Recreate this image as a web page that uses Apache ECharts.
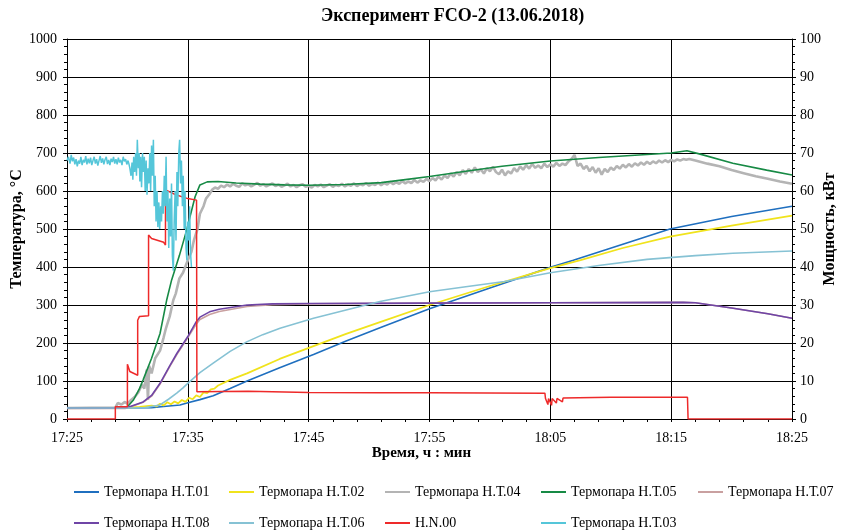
<!DOCTYPE html>
<html>
<head>
<meta charset="utf-8">
<script src="https://cdn.jsdelivr.net/npm/echarts@6/dist/echarts.min.js"></script>
<style>html,body{margin:0;padding:0;background:#fff}#c{width:846px;height:532px}</style>
</head>
<body>
<div id="c"></div>
<script>
// ---- DATA (time in minutes after 17:25) ----
const xTickLabels = ['17:25','17:35','17:45','17:55','18:05','18:15','18:25'];
const names = ['Термопара Н.Т.01','Термопара Н.Т.02','Термопара Н.Т.04','Термопара Н.Т.05','Термопара Н.Т.07','Термопара Н.Т.08','Термопара Н.Т.06','Н.N.00','Термопара Н.Т.03'];

const tT01 = [0, 5, 7, 8, 9.35, 10, 11, 12.1, 13.5, 14.9, 17.6, 20.4, 23.1, 25.9, 30, 35, 40, 41.9, 46, 49.9, 55, 60];
const vT01 = [29, 29, 30, 33, 37, 43, 51, 61, 80, 100, 135, 170, 205, 240, 290, 345, 399, 418, 460, 500, 533, 560];

const tT02 = [0, 4.5, 5.0, 6.0, 7.0, 7.4, 7.7, 8.0, 8.3, 8.6, 8.9, 9.2, 9.5, 9.8, 10.1, 10.4, 10.7, 11.0, 11.3, 11.6, 11.9, 12.2, 12.5, 13.5, 14.9, 17.6, 20.4, 23.1, 25.9, 30, 35, 40, 42.5, 46, 49.9, 55, 60];
const vT02 = [29, 29, 30, 32, 35, 33, 40, 36, 44, 39, 46, 41, 50, 45, 56, 52, 62, 58, 70, 68, 78, 80, 88, 103, 120, 158, 192, 224, 255, 300, 350, 397, 418, 450, 480, 509, 535];

// H.T.04: start/rise, noisy plateau, decline
const tT04rise = [0, 4.0, 4.2, 4.5, 4.8, 5.0, 5.3, 5.6, 5.9, 6.2, 6.4, 6.6, 6.7, 6.8, 7.0, 7.3, 7.7, 8.0, 8.2, 8.5, 8.8, 9.0, 9.3, 9.6, 10.0, 10.3, 10.5, 10.8, 11.0, 11.3, 11.5, 11.8];
const vT04rise = [29, 30, 42, 38, 45, 40, 50, 58, 70, 90, 80, 130, 50, 140, 120, 160, 180, 215, 240, 270, 313, 330, 370, 385, 418, 440, 470, 500, 540, 560, 580, 592];
const pT04mid = [[12,603],[12.25,609],[12.5,606],[12.75,614],[13,610],[13.25,617],[13.5,612],[13.75,619],[14,614],[14.25,611],[14.5,620],[14.75,615],
  [15,618],[15.25,612],[15.5,617],[15.75,621],[16,614],[16.25,618],[16.5,612],[16.75,616],[17,620],[17.25,613],[17.5,617],[17.75,611],
  [18,615],[18.25,619],[18.5,612],[18.75,616],[19,610],[19.25,615],[19.5,618],[19.75,611],[20,614],[20.25,609],[20.5,616],[20.75,612],
  [21,617],[21.25,610],[21.5,614],[21.75,618],[22,611],[22.25,616],[22.5,613],[22.75,619],[23,612],[23.25,617],[23.5,614],[23.75,620],
  [24,613],[24.25,618],[24.5,615],[24.75,621],[25,614],[25.25,619],[25.5,616],[25.75,622],[26,615],[26.25,621],[26.5,617],[26.75,624],
  [27,618],[27.25,623],[27.5,619],[27.75,626],[28,620],[28.25,625],[28.5,621],[28.75,629],[29,622],[29.25,628],[29.5,624],[29.75,632],
  [30,626],[30.25,634],[30.5,628],[30.75,638],[31,630],[31.25,641],[31.5,634],[31.75,646],[32,638],[32.25,650],[32.5,641],[32.75,655],
  [33,645],[33.25,658],[33.5,648],[33.75,662],[34,650],[34.25,657],[34.5,646],[34.75,660],[35,652],[35.25,664],[35.5,650],[35.75,644],
  [36,656],[36.25,641],[36.5,652],[36.75,646],[37,660],[37.25,651],[37.5,665],[37.75,656],[38,668],[38.25,659],[38.5,671],[38.75,661],
  [39,667],[39.25,660],[39.5,672],[39.75,663],[40,670],[40.25,664],[40.5,674],[40.75,666],[41,672],[41.25,668],[41.5,678],[41.75,684],
  [42,695],[42.25,666],[42.5,672],[42.75,658],[43,666],[43.25,652],[43.5,663],[43.75,648],[44,660],[44.25,643],[44.5,658],[44.75,650],
  [45,662],[45.25,655],[45.5,666],[45.75,659],[46,669],[46.25,662],[46.5,671],[46.75,664],[47,673],[47.25,667],[47.5,675],[47.75,669],
  [48,677],[48.25,671],[48.5,678],[48.75,673],[49,680],[49.25,675],[49.5,681],[49.75,676],[50,682],[50.25,678],[50.5,683],[50.75,680],
  [51,684],[51.25,682],[51.5,684]];
const tT04tail = [52.0, 53.0, 54.0, 55.0, 56.0, 57.0, 58.0, 59.0, 60.0];
const vT04tail = [680, 672, 665, 655, 647, 639, 632, 625, 619];

const tT05 = [0, 4.5, 5.0, 5.5, 6.0, 6.3, 7.0, 7.7, 8.25, 8.66, 9.3, 9.9, 10.6, 11.0, 11.6, 12.5, 14, 16, 18, 20, 23, 26, 28, 30, 33, 36, 40, 44, 48, 50, 51.3, 52.4, 55.1, 57.9, 60];
const vT05 = [29, 29, 32, 50, 80, 103, 160, 225, 313, 366, 430, 497, 585, 616, 624, 625, 621, 618, 616, 615, 617, 622, 630, 638, 652, 665, 679, 688, 696, 700, 706, 697, 673, 655, 642];

const tT07 = [0, 4.8, 5.0, 6.3, 7.0, 7.7, 8.5, 9.1, 10.0, 10.7, 11.0, 11.8, 12.6, 14.9, 17, 20, 30, 40, 51, 52, 55, 58, 60];
const vT07 = [28, 28, 29, 44, 60, 92, 138, 170, 214, 250, 262, 275, 283, 296, 301, 303, 305, 306, 307, 306, 292, 277, 265];

const tT08 = [0, 4.8, 5.0, 6.3, 7.0, 7.7, 8.5, 9.1, 10.0, 10.7, 11.0, 11.8, 12.6, 14.9, 17, 20, 30, 40, 51, 52, 55, 58, 60];
const vT08 = [29, 29, 30, 45, 62, 94, 140, 173, 217, 256, 268, 282, 289, 300, 303, 304, 305, 306, 307, 306, 292, 277, 265];

const tT06 = [0, 5.5, 6.5, 7.7, 8.4, 9.08, 9.6, 10.04, 11, 12.1, 13.5, 14.87, 16.2, 17.63, 20.4, 23.1, 25.9, 30, 33, 36.2, 40, 44, 48, 52, 55.1, 60];
const vT06 = [29, 29, 30, 37, 52, 68, 82, 95, 122, 147, 178, 203, 222, 239, 265, 287, 309, 335, 348, 362, 385, 404, 420, 430, 436, 442];

// power, kW (right axis)
const tN00 = [0, 4.0, 4.0, 5.0, 5.0, 5.2, 5.85, 5.85, 6.0, 6.75, 6.75, 7.0, 8.0, 8.15, 8.15, 9.0, 10.0, 10.72, 10.75, 15, 20, 25.9, 30, 39.55, 39.6, 39.8, 39.85, 40.1, 40.15, 40.5, 40.55, 41.0, 41.05, 45, 51.35, 51.4, 60];
const vN00 = [0, 0, 3.2, 3.2, 14.4, 12.5, 11.5, 26, 27, 27.2, 48.4, 47.5, 46.5, 45.8, 60.3, 59, 58, 57.6, 7.2, 7.3, 7.0, 6.9, 6.9, 6.8, 5.4, 3.8, 5.4, 3.6, 5.4, 4.2, 5.4, 4.5, 5.5, 5.7, 5.7, 0, 0];

const tT03 = [0.00, 0.12, 0.25, 0.35, 0.45, 0.55, 0.65, 0.75, 0.85, 0.95, 1.05, 1.15, 1.25, 1.35, 1.45, 1.55, 1.65, 1.75, 1.85, 1.95, 2.05, 2.15, 2.25, 2.35, 2.45, 2.55, 2.65, 2.75, 2.85, 2.95, 3.05, 3.15, 3.25, 3.35, 3.45, 3.55, 3.65, 3.75, 3.85, 3.95, 4.05, 4.15, 4.25, 4.35, 4.45, 4.55, 4.65, 4.75, 4.85, 4.95, 5.05, 5.12,
  5.20, 5.30, 5.38, 5.45, 5.52, 5.60, 5.68, 5.75, 5.82, 5.90, 5.97, 6.03, 6.10, 6.17, 6.25, 6.32, 6.40, 6.47, 6.55, 6.62, 6.70, 6.78, 6.85, 6.92, 7.00, 7.07, 7.15, 7.22, 7.30, 7.37, 7.45, 7.52, 7.60, 7.67, 7.75, 7.82, 7.90, 7.97, 8.05, 8.12, 8.20, 8.27, 8.35, 8.42, 8.50, 8.57, 8.65, 8.72, 8.80, 8.87, 8.95, 9.02, 9.10, 9.17, 9.25, 9.32, 9.40, 9.47, 9.55, 9.62, 9.70, 9.77, 9.85, 9.92, 10.00, 10.07, 10.15, 10.22, 10.30];
const vT03 = [680, 690, 672, 695, 678, 688, 670, 684, 665, 680, 672, 690, 668, 682, 675, 692, 670, 685, 673, 688, 668, 680, 690, 672, 684, 667, 680, 692, 674, 686, 670, 683, 690, 671, 682, 668, 685, 676, 690, 672, 684, 670, 688, 675, 682, 668, 690, 678, 684, 670, 680, 672,
  660, 640, 675, 630, 690, 650, 700, 640, 735, 660, 700, 625, 690, 610, 700, 650, 690, 600, 680, 590, 660, 620, 700, 600, 720, 640, 735, 560, 640, 520, 600, 505, 570, 500, 560, 520, 600, 540, 640, 560, 690, 520, 600, 450, 580, 480, 620, 430, 390, 520, 600, 470, 650, 560, 700, 735, 620, 680, 560, 640, 500, 600, 450, 418, 520, 470, 560, 440, 400];

// ---- CHART ----
const zip = (t, v) => t.map((x, i) => [x, v[i]]);
const colors = ['#1f6fbf', '#f0e31c', '#b4b4b4', '#178a45', '#c9a0a0', '#6f45a6', '#86c2d4', '#ee2a2a', '#55c6d9'];
const seriesData = [
  zip(tT01, vT01), zip(tT02, vT02),
  zip(tT04rise, vT04rise).concat(pT04mid, zip(tT04tail, vT04tail)),
  zip(tT05, vT05), zip(tT07, vT07), zip(tT08, vT08), zip(tT06, vT06), zip(tN00, vN00), zip(tT03, vT03)];
const widths = [1.6, 1.8, 2.6, 1.6, 1.6, 1.6, 1.6, 1.5, 1.5];
const font = 'Liberation Serif';

const series = names.map((n, i) => ({
  name: n, type: 'line', data: seriesData[i], yAxisIndex: i === 7 ? 1 : 0,
  symbol: 'none', showSymbol: false, lineStyle: { color: colors[i], width: widths[i] }, itemStyle: { color: colors[i] },
  animation: false, z: 2 + i
}));

const legendPos = [[74, 485], [229, 485], [385, 485], [541, 485], [698, 485], [74, 516], [229, 516], [385, 516], [541, 516]];
const legends = names.map((n, i) => ({
  data: [n], left: legendPos[i][0], top: legendPos[i][1], padding: 0, icon: 'rect', itemWidth: 25, itemHeight: 2, itemGap: 0,
  textStyle: { fontFamily: font, fontSize: 14, color: '#000' }
}));

const chart = echarts.init(document.getElementById('c'), null, { renderer: 'canvas' });
chart.setOption({
  animation: false,
  backgroundColor: '#fff',
  title: { text: 'Эксперимент FCO-2 (13.06.2018)', left: 321, top: 7, padding: 0,
    textStyle: { fontFamily: font, fontSize: 18, fontWeight: 'bold', color: '#000' } },
  legend: legends,
  grid: { left: 67, right: 54, top: 39, bottom: 113, containLabel: false, outerBoundsMode: 'none' },
  xAxis: {
    type: 'value', min: 0, max: 60, interval: 10,
    name: 'Время, ч : мин', nameLocation: 'middle', nameGap: 27, nameMoveOverlap: false,
    nameTextStyle: { fontFamily: font, fontSize: 15, fontWeight: 'bold', color: '#000', padding: [0, 16, 0, 0] },
    axisLine: { lineStyle: { color: '#000', width: 1 } },
    axisTick: { length: 3, lineStyle: { color: '#000' } },
    minorTick: { show: true, splitNumber: 5, length: 3, lineStyle: { color: '#000' } },
    axisLabel: { fontFamily: font, fontSize: 14, color: '#000', margin: 12, formatter: v => xTickLabels[Math.round(v / 10)] },
    splitLine: { show: true, lineStyle: { color: '#000', width: 1 } }
  },
  yAxis: [{
    type: 'value', min: 0, max: 1000, interval: 100,
    name: 'Температура, °С', nameLocation: 'middle', nameGap: 42, nameRotate: 90, nameMoveOverlap: false,
    nameTextStyle: { fontFamily: font, fontSize: 16, fontWeight: 'bold', color: '#000' },
    axisLine: { show: true, lineStyle: { color: '#000', width: 1 } },
    axisTick: { show: true, length: 4, lineStyle: { color: '#000' } },
    minorTick: { show: true, splitNumber: 5, length: 3, lineStyle: { color: '#000' } },
    axisLabel: { fontFamily: font, fontSize: 14, color: '#000', margin: 10, formatter: v => String(v) },
    splitLine: { show: true, lineStyle: { color: '#000', width: 1 } }
  }, {
    type: 'value', min: 0, max: 100, interval: 10, position: 'right',
    name: 'Мощность, кВт', nameLocation: 'middle', nameGap: 30, nameRotate: 90, nameMoveOverlap: false,
    nameTextStyle: { fontFamily: font, fontSize: 16, fontWeight: 'bold', color: '#000' },
    axisLine: { show: true, lineStyle: { color: '#000', width: 1 } },
    axisTick: { show: true, length: 4, lineStyle: { color: '#000' } },
    minorTick: { show: true, splitNumber: 5, length: 3, lineStyle: { color: '#000' } },
    axisLabel: { fontFamily: font, fontSize: 14, color: '#000', margin: 8, formatter: v => String(v) },
    splitLine: { show: false }
  }],
  series: series
});
</script>
</body>
</html>
